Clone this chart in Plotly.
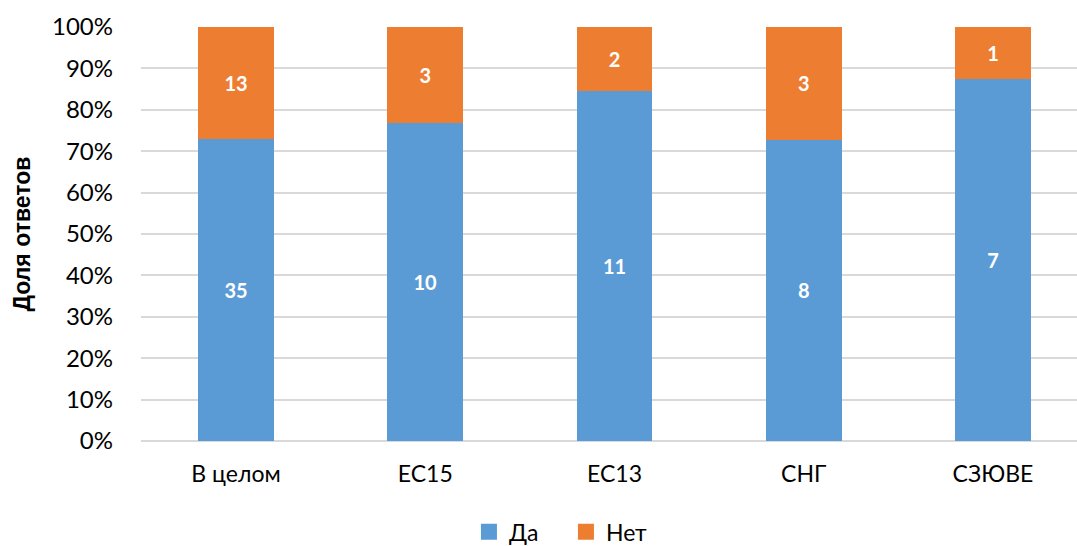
import plotly.graph_objects as go

categories = ["В целом", "ЕС15", "ЕС13", "СНГ", "СЗЮВЕ"]
yes_counts = [35, 10, 11, 8, 7]
no_counts = [13, 3, 2, 3, 1]
y_ticks = [0, 10, 20, 30, 40, 50, 60, 70, 80, 90, 100]
y_tick_labels = [f"{v}%" for v in y_ticks]

FONT = "Lato"
BLUE = "#5b9bd5"
ORANGE = "#ed7d31"

fig = go.Figure()
for name, vals, color in [("Да", yes_counts, BLUE), ("Нет", no_counts, ORANGE)]:
    fig.add_trace(go.Bar(
        x=categories, y=vals, name=name, marker_color=color,
        marker_line_width=0, width=0.40, showlegend=False,
        text=vals, texttemplate="%{text}", textposition="inside",
        insidetextanchor="middle",
        textfont=dict(family=FONT, size=20, color="white", weight="bold"),
        hoverinfo="skip",
    ))
    # square legend swatch
    fig.add_trace(go.Scatter(
        x=[None], y=[None], mode="markers", name=name,
        marker=dict(symbol="square", size=17, color=color),
        hoverinfo="skip",
    ))

fig.update_layout(
    width=1077, height=546,
    margin=dict(l=141, r=0, t=27, b=105, autoexpand=False),
    barmode="stack", barnorm="percent",
    plot_bgcolor="white", paper_bgcolor="white",
    font=dict(family=FONT, color="#000000"),
    showlegend=True,
    legend=dict(orientation="h", x=0.454, xanchor="center",
                yref="container", y=0.026, yanchor="middle",
                font=dict(family=FONT, size=23),
                itemsizing="trace", itemwidth=30, traceorder="normal",
                entrywidth=52, entrywidthmode="pixels",
                tracegroupgap=0),
)
fig.update_xaxes(
    range=[-0.502, 4.444], showgrid=False, showline=False, automargin=False,
    ticks="", tickfont=dict(family=FONT, size=23), ticklabelstandoff=17,
)
fig.update_yaxes(
    range=[0, 100], tickvals=y_ticks, ticktext=y_tick_labels,
    showgrid=True, gridcolor="#d9d9d9", gridwidth=1.5,
    zeroline=True, zerolinecolor="#d9d9d9", zerolinewidth=1.5,
    showline=False, ticks="", ticklabelstandoff=27, automargin=False,
    tickfont=dict(family=FONT, size=24),
    title=dict(text="Доля ответов", standoff=14,
               font=dict(family="Liberation Sans", size=23, weight="bold")),
)

fig.write_html("out.html")
